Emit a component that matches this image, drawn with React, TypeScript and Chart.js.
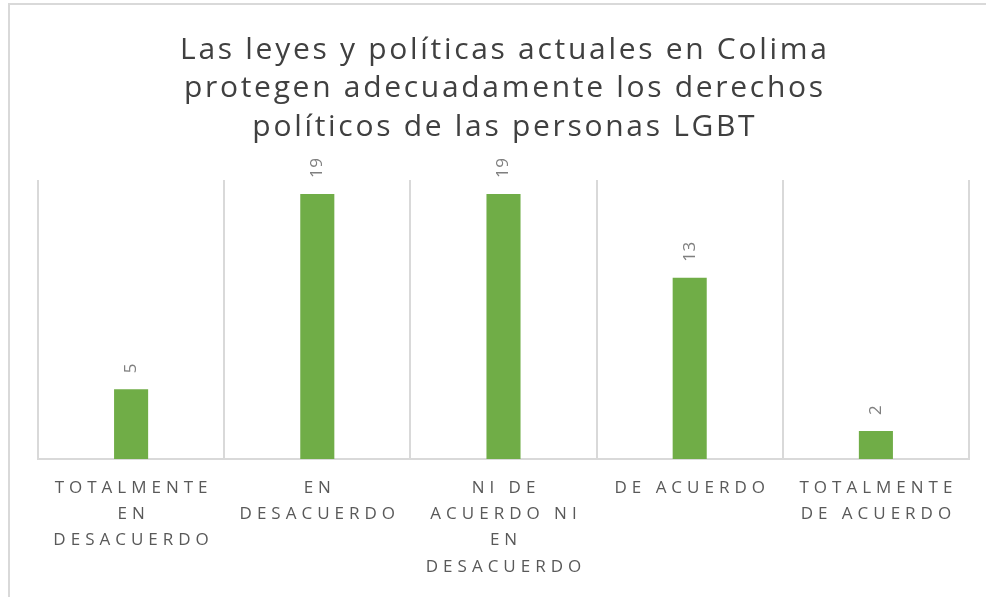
import React, { useEffect, useRef } from "react";
import { Chart, registerables } from "chart.js";

Chart.register(...registerables);

const titleLines = [
  "Las leyes y políticas actuales en Colima",
  "protegen adecuadamente los derechos",
  "políticos de las personas LGBT",
];
const categories = [
  ["TOTALMENTE", "EN", "DESACUERDO"],
  ["EN", "DESACUERDO"],
  ["NI DE", "ACUERDO NI", "EN", "DESACUERDO"],
  ["DE ACUERDO"],
  ["TOTALMENTE", "DE ACUERDO"],
];
const values = [5, 19, 19, 13, 2];

const TITLE_SP = 2.7;
const TICK_SP = 5;

const customDraw = {
  id: "customDraw",
  beforeDraw(chart: any) {
    const ctx = chart.ctx;
    ctx.save();
    ctx.fillStyle = "#ffffff";
    ctx.fillRect(0, 0, chart.width, chart.height);
    ctx.strokeStyle = "#d9d9d9";
    ctx.lineWidth = 2;
    ctx.beginPath();
    ctx.moveTo(9, chart.height);
    ctx.lineTo(9, 4);
    ctx.lineTo(chart.width, 4);
    ctx.stroke();
    ctx.restore();
  },
  afterDraw(chart: any) {
    const ctx = chart.ctx;
    const area = chart.chartArea;
    const xs = chart.scales.x;
    ctx.save();
    // title
    ctx.fillStyle = "#404040";
    ctx.font = "30px 'Open Sans'";
    (ctx as any).letterSpacing = TITLE_SP + "px";
    ctx.textAlign = "center";
    ctx.textBaseline = "middle";
    const cx = (area.left + area.right) / 2;
    titleLines.forEach((t, i) => {
      ctx.fillText(t, cx + TITLE_SP / 2, 50 + i * 38.5);
    });
    // category labels
    ctx.fillStyle = "#595959";
    ctx.font = "17px 'Open Sans'";
    (ctx as any).letterSpacing = TICK_SP + "px";
    categories.forEach((lines, i) => {
      const x = xs.getPixelForValue(i);
      lines.forEach((l, j) => {
        ctx.fillText(l, x + TICK_SP / 2, area.bottom + 29 + j * 26.3);
      });
    });
    // data labels
    ctx.fillStyle = "#7f7f7f";
    ctx.font = "17px 'Open Sans'";
    (ctx as any).letterSpacing = "0.5px";
    ctx.textAlign = "left";
    const meta = chart.getDatasetMeta(0);
    meta.data.forEach((bar: any, i: number) => {
      ctx.save();
      ctx.translate(bar.x, bar.y - 16);
      ctx.rotate(-Math.PI / 2);
      ctx.fillText(String(values[i]), 0, 0);
      ctx.restore();
    });
    ctx.restore();
  },
};

export default function App() {
  const ref = useRef<HTMLCanvasElement>(null);
  useEffect(() => {
    if (!ref.current) return;
    const chart = new Chart(ref.current, {
      type: "bar",
      data: {
        labels: categories.map((c) => c.join(" ")),
        datasets: [
          {
            data: values,
            backgroundColor: "#70ad47",
            barPercentage: 0.183,
            categoryPercentage: 1,
          },
        ],
      },
      options: {
        animation: false,
        responsive: false,
        layout: { padding: { left: 38, right: 17, top: 180, bottom: 138 } },
        plugins: {
          legend: { display: false },
          title: { display: false },
          tooltip: { enabled: false },
        },
        scales: {
          x: {
            offset: true,
            ticks: { display: false },
            grid: {
              display: true,
              offset: true,
              color: "#d9d9d9",
              lineWidth: 2,
              drawTicks: false,
            },
            border: { display: true, color: "#d9d9d9", width: 2 },
          },
          y: {
            display: false,
            min: 0,
            max: 20,
          },
        },
      },
      plugins: [customDraw],
    });
    return () => chart.destroy();
  }, []);
  return (
    <div style={{ position: "fixed", left: 0, top: 0, width: 986, height: 597 }}>
      <canvas ref={ref} width={986} height={597} style={{ width: 986, height: 597 }} />
    </div>
  );
}
